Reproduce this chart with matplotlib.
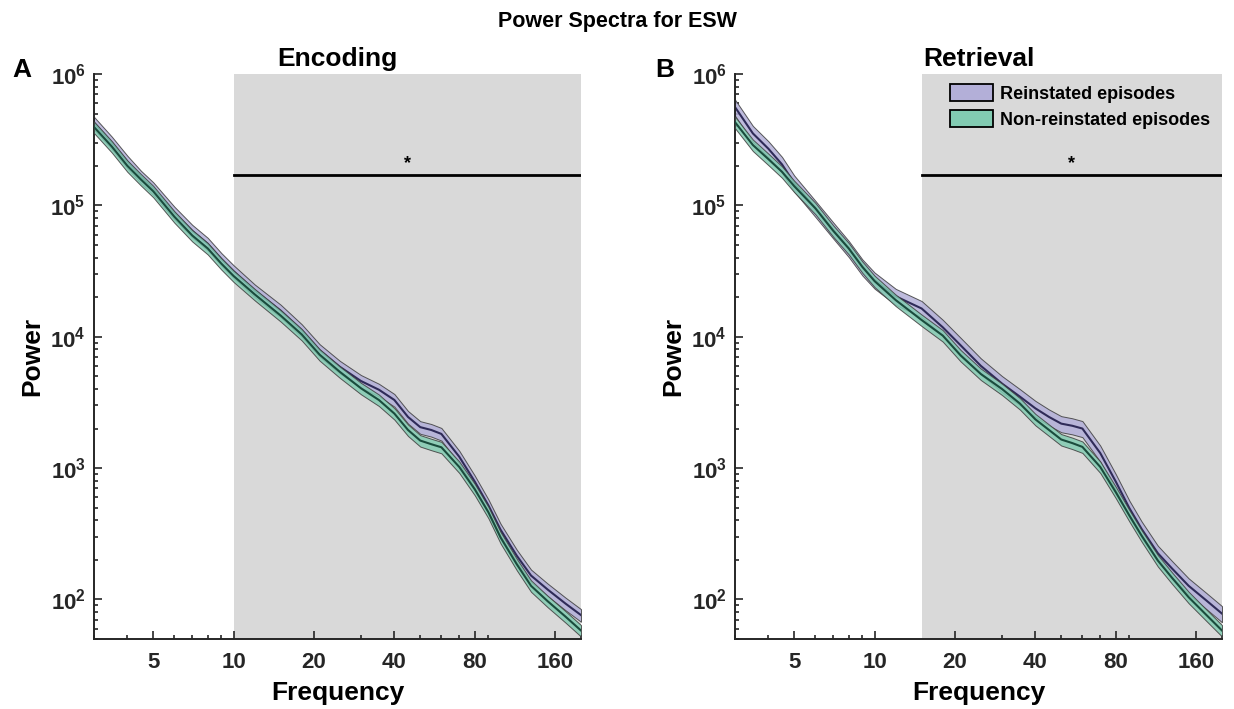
import matplotlib
matplotlib.use('Agg')
from matplotlib import pyplot as plt
from matplotlib.patches import Patch
from matplotlib.ticker import FixedLocator, LogLocator, NullFormatter
import numpy as np

plt.rcParams['font.family'] = ['Liberation Sans', 'DejaVu Sans']
plt.rcParams['font.weight'] = 'bold'
plt.rcParams['mathtext.fontset'] = 'custom'
plt.rcParams['mathtext.rm'] = 'Liberation Sans:bold'
plt.rcParams['mathtext.bf'] = 'Liberation Sans:bold'
plt.rcParams['mathtext.it'] = 'Liberation Sans:bold'

freq = [3, 3.5, 4, 4.5, 5, 6, 7, 8, 9, 10, 12, 15, 18, 21, 25, 30, 35, 40, 45,
        50, 55, 60, 70, 80, 90, 100, 115, 130, 150, 175, 200]

# Encoding
enc_rein = [425e3, 300e3, 215e3, 165e3, 135e3, 88e3, 64e3, 51e3, 39e3, 31.5e3,
            22.5e3, 15.8e3, 11.2e3, 7.9e3, 5.9e3, 4.6e3, 3.95e3, 3.3e3, 2.45e3,
            2.05e3, 1.95e3, 1.82e3, 1.22e3, 790, 520, 339, 215, 152, 119, 93, 76]
enc_non = [395e3, 280e3, 200e3, 157e3, 128e3, 82e3, 59e3, 47e3, 36e3, 29e3,
           21e3, 14.5e3, 10.4e3, 7.3e3, 5.4e3, 4.05e3, 3.3e3, 2.6e3, 1.95e3,
           1.62e3, 1.52e3, 1.44e3, 1.02e3, 690, 461, 296, 185, 127, 97, 74, 58]

# Retrieval
ret_rein = [560e3, 353e3, 270e3, 205e3, 148e3, 95e3, 65e3, 47e3, 34e3, 27e3,
            20.3e3, 16.4e3, 11.8e3, 8.6e3, 6.0e3, 4.4e3, 3.5e3, 2.85e3, 2.45e3,
            2.18e3, 2.1e3, 2.0e3, 1.3e3, 790, 495, 344, 225, 172, 127, 98, 78]
ret_non = [430e3, 288e3, 225e3, 180e3, 140e3, 95e3, 64e3, 47e3, 34e3, 26.5e3,
           19e3, 13.4e3, 10.2e3, 7.2e3, 5.2e3, 4.0e3, 3.1e3, 2.35e3, 1.95e3,
           1.65e3, 1.55e3, 1.45e3, 1.02e3, 656, 435, 306, 198, 146, 104, 76, 58]

# relative SEM of each band
enc_sem = [0.11, 0.10]
ret_sem = [0.14, 0.10]

# significant clusters (start freq) and line height
sig_start = [10, 15]
sig_level = 1.7e5

titles = ['Encoding', 'Retrieval']
letters = ['A', 'B']
labels = ['Reinstated episodes', 'Non-reinstated episodes']

fill_cols = ['#b3afd8', '#82cbb2']
line_cols = ['#2f2b58', '#1a4c3d']

fig = plt.figure(figsize=(12.34, 7.09), dpi=100)
ax1 = fig.add_axes([94 / 1234, 1 - 639 / 709, 487 / 1234, 565 / 709])
ax2 = fig.add_axes([735 / 1234, 1 - 639 / 709, 487 / 1234, 565 / 709])

panels = [(ax1, enc_rein, enc_non, enc_sem, sig_start[0]),
          (ax2, ret_rein, ret_non, ret_sem, sig_start[1])]

f = np.array(freq)
for i, (ax, rein, non, sem, start) in enumerate(panels):
    ax.axvspan(start, 200, color='#d9d9d9', lw=0, zorder=0)
    for j, series in enumerate([rein, non]):
        m = np.array(series)
        ax.fill_between(f, m * (1 - sem[j]), m * (1 + sem[j]), facecolor=fill_cols[j],
                        edgecolor='#3c3c3c', lw=0.7, alpha=0.85, zorder=2 + j)
        ax.plot(f, m, color=line_cols[j], lw=1.5, zorder=2 + j)

    ax.plot([start, 200], [sig_level, sig_level], color='black', lw=2, zorder=5)
    mid = np.sqrt(start * 200)
    ax.annotate('*', (mid, sig_level), xytext=(0, 2), textcoords='offset points',
                ha='center', va='bottom', fontsize=13, fontweight='bold')

    ax.set_xscale('log')
    ax.set_yscale('log')
    ax.set_xlim(3, 200)
    ax.set_ylim(50, 1e6)

    ax.xaxis.set_major_locator(FixedLocator([5, 10, 20, 40, 80, 160]))
    ax.set_xticklabels(['5', '10', '20', '40', '80', '160'])
    ax.xaxis.set_minor_locator(LogLocator(base=10, subs=range(2, 10)))
    ax.xaxis.set_minor_formatter(NullFormatter())
    ax.yaxis.set_major_locator(FixedLocator([1e2, 1e3, 1e4, 1e5, 1e6]))
    ax.set_yticklabels([r'$\mathbf{10^{%d}}$' % k for k in range(2, 7)])
    ax.yaxis.set_minor_locator(LogLocator(base=10, subs=range(2, 10)))
    ax.yaxis.set_minor_formatter(NullFormatter())

    ax.tick_params(which='both', direction='in', colors='#262626', width=1.2)
    ax.tick_params(axis='x', which='major', length=6, labelsize=16, pad=9)
    ax.tick_params(axis='y', which='major', length=6, labelsize=16, pad=6)
    ax.tick_params(which='minor', length=3)
    for s in ['top', 'right']:
        ax.spines[s].set_visible(False)
    for s in ['left', 'bottom']:
        ax.spines[s].set_linewidth(1.4)
        ax.spines[s].set_color('#262626')

    ax.set_xlabel('Frequency', fontsize=19, fontweight='bold', labelpad=6)
    ax.set_ylabel('Power', fontsize=19, fontweight='bold', labelpad=4)
    ax.set_title(titles[i], fontsize=19, fontweight='bold', pad=6)

fig.text(12 / 1234, 1 - 77 / 709, 'A', fontsize=19, fontweight='bold', va='baseline')
fig.text(655 / 1234, 1 - 77 / 709, 'B', fontsize=19, fontweight='bold', va='baseline')
fig.text(0.5, 1 - 21 / 709, 'Power Spectra for ESW', fontsize=15.5, fontweight='bold',
         ha='center', va='center')

handles = [Patch(facecolor=fill_cols[0], edgecolor='black', lw=1.3),
           Patch(facecolor=fill_cols[1], edgecolor='black', lw=1.3)]
ax2.legend(handles, labels, loc='upper right', bbox_to_anchor=(0.99, 0.995),
           frameon=False, fontsize=13, handlelength=2.4, handleheight=1.1,
           handletextpad=0.35, labelspacing=0.4, borderaxespad=0)

fig.savefig('out.png', dpi=100)
